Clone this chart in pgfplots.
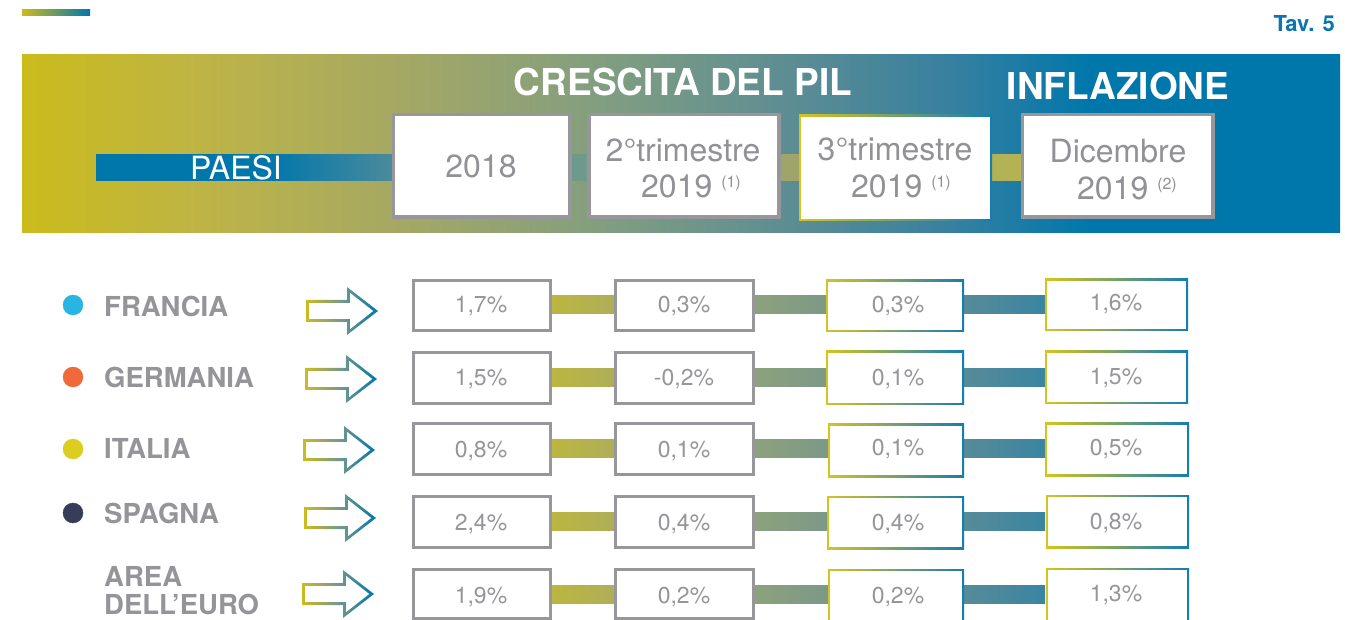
\documentclass[border=0pt]{standalone}
\usepackage{fontspec}
\setmainfont{TeX Gyre Heros}
\usepackage{pgfplots}
\pgfplotsset{compat=1.18}
\usepackage{pgfplotstable}

\definecolor{bY}{RGB}{203,187,28}
\definecolor{b1}{RGB}{190,180,70}
\definecolor{b2}{RGB}{165,168,100}
\definecolor{b3}{RGB}{130,158,128}
\definecolor{b4}{RGB}{90,140,148}
\definecolor{b5}{RGB}{55,128,160}
\definecolor{bB}{RGB}{0,119,171}
\definecolor{h1}{RGB}{75,138,156}
\definecolor{h2}{RGB}{110,154,140}
\definecolor{h3}{RGB}{158,165,107}
\definecolor{h4}{RGB}{181,179,82}
\definecolor{r0}{RGB}{188,182,64}
\definecolor{r1}{RGB}{174,174,88}
\definecolor{r2}{RGB}{141,162,124}
\definecolor{r3}{RGB}{124,153,135}
\definecolor{r4}{RGB}{87,139,152}
\definecolor{r5}{RGB}{58,133,162}
\definecolor{aY}{RGB}{205,188,30}
\definecolor{aM}{RGB}{115,152,140}
\definecolor{aB}{RGB}{0,120,172}
\definecolor{cY}{RGB}{214,196,30}
\definecolor{cB}{RGB}{20,125,180}
\definecolor{gborder}{RGB}{150,150,155}
\definecolor{hgray}{RGB}{145,145,150}
\definecolor{lgray}{RGB}{148,148,153}
\definecolor{vgray}{RGB}{150,150,154}
\definecolor{tavblue}{RGB}{10,117,176}
\definecolor{dFr}{RGB}{41,181,227}
\definecolor{dDe}{RGB}{240,105,58}
\definecolor{dIt}{RGB}{220,205,31}
\definecolor{dEs}{RGB}{53,61,88}

\pgfdeclarehorizontalshading{banner}{100bp}{color(0bp)=(bY); color(25bp)=(bY); color(31.75bp)=(b1); color(39.34bp)=(b2); color(46.93bp)=(b3); color(54.51bp)=(b4); color(60.2bp)=(b5); color(65.52bp)=(bB); color(100bp)=(bB)}
\pgfdeclarehorizontalshading{hbar}{100bp}{color(0bp)=(bB); color(34.4bp)=(bB); color(41bp)=(h1); color(51.1bp)=(h2); color(62.5bp)=(h3); color(75bp)=(h4); color(100bp)=(h4)}
\pgfdeclarehorizontalshading{rbar}{100bp}{color(0bp)=(r0); color(25bp)=(r0); color(31.6bp)=(r1); color(45.5bp)=(r2); color(52.9bp)=(r3); color(66.8bp)=(r4); color(75bp)=(r5); color(100bp)=(r5)}

% values: x = column centre, y = text baseline (pixels from top), v = value in %
\pgfplotstableread{
x y v
481 313 1.7
684 313 0.3
898 313 0.3
1116 311 1.6
}\francia
\pgfplotstableread{
x y v
481 386 1.5
684 386 -0.2
898 386 0.1
1116 385 1.5
}\germania
\pgfplotstableread{
x y v
481 457 0.8
684 457 0.1
898 456 0.1
1116 455 0.5
}\italia
\pgfplotstableread{
x y v
481 530 2.4
684 530 0.4
898 530 0.4
1116 529 0.8
}\spagna
\pgfplotstableread{
x y v
481 603 1.9
684 603 0.2
898 603 0.2
1116 601 1.3
}\euro

\newcommand{\gbox}[4]{\draw[gborder, line width=3pt, fill=white] (axis cs:#1,#2) rectangle (axis cs:#3,#4);}
\newcommand{\cbox}[4]{\shade[left color=cY, right color=cB] (axis cs:#1,#2) rectangle (axis cs:#3,#4);
  \fill[white] ([shift={(1.7pt,-1.7pt)}]axis cs:#1,#2) rectangle ([shift={(-1.7pt,1.7pt)}]axis cs:#3,#4);}
\newcommand{\arrowat}[2]{%
  \begin{scope}[shift={(axis cs:#1,#2)}]
  \shade[left color=aY, right color=aB, middle color=aM, even odd rule]
   (0pt,11pt) -- (41pt,11pt) -- (41pt,24pt) -- (72pt,0pt) -- (41pt,-24pt) -- (41pt,-11pt) -- (0pt,-11pt) -- cycle
   (2.8pt,8.2pt) -- (43.8pt,8.2pt) -- (43.8pt,18.5pt) -- (67.4pt,0pt) -- (43.8pt,-18.5pt) -- (43.8pt,-8.2pt) -- (2.8pt,-8.2pt) -- cycle;
  \end{scope}}
\newcommand{\rowbar}[1]{\shade[shading=rbar] (axis cs:550,#1-9) rectangle (axis cs:1045,#1+9);}

\pgfplotsset{valstyle/.style={only marks, mark=none,
  point meta=explicit,
  nodes near coords={\pgfmathprintnumber[fixed,fixed zerofill,precision=1,use comma]{\pgfplotspointmeta}\%},
  every node near coord/.append style={anchor=base, inner sep=0pt, text=vgray, font=\fontsize{23}{27}\selectfont}}}

\begin{document}
\begin{tikzpicture}
\begin{axis}[
  width=1345pt, height=620pt, scale only axis,
  xmin=0, xmax=1345, ymin=0, ymax=620, y dir=reverse,
  hide axis, clip=false,
  /pgf/number format/assume math mode=true,
]
\fill[white] (axis cs:0,0) rectangle (axis cs:1345,620);
% top decoration and table number
\shade[left color=bY, right color=bB] (axis cs:22,10) rectangle (axis cs:90,16);
\node[anchor=base east, inner sep=0pt, font=\bfseries\fontsize{22}{26}\selectfont, text=tavblue] at (axis cs:1335,32) {Tav. 5};
% banner
\shade[shading=banner] (axis cs:22,55) rectangle (axis cs:1340,233);
\shade[shading=hbar] (axis cs:96,155) rectangle (axis cs:1022,181);
\node[anchor=base, inner sep=0pt, white, font=\fontsize{32}{38}\selectfont] at (axis cs:236,180) {PAESI};
\node[anchor=base, inner sep=0pt, white, font=\bfseries\fontsize{37}{40}\selectfont] at (axis cs:683,96) {CRESCITA DEL PIL};
\node[anchor=base, inner sep=0pt, white, font=\bfseries\fontsize{37}{40}\selectfont] at (axis cs:1118,100) {INFLAZIONE};
% header boxes
\draw[gborder, line width=3.5pt, fill=white] (axis cs:393.5,114.5) rectangle (axis cs:570,217);
\draw[gborder, line width=3.5pt, fill=white] (axis cs:589,114.5) rectangle (axis cs:779,217);
\cbox{799}{115}{992}{221}
\draw[gborder, line width=3.5pt, fill=white] (axis cs:1022.5,114.5) rectangle (axis cs:1213,217);
\node[anchor=base, inner sep=0pt, text=hgray, font=\fontsize{32}{38}\selectfont] at (axis cs:481,178) {2018};
\node[anchor=base, inner sep=0pt, text=hgray, font=\fontsize{32}{38}\selectfont] at (axis cs:683,162) {2°trimestre};
\node[anchor=base, inner sep=0pt, text=hgray, font=\fontsize{32}{38}\selectfont] at (axis cs:691,198) {2019 \raisebox{10pt}{\fontsize{16}{16}\selectfont(1)}};
\node[anchor=base, inner sep=0pt, text=hgray, font=\fontsize{32}{38}\selectfont] at (axis cs:895,161) {3°trimestre};
\node[anchor=base, inner sep=0pt, text=hgray, font=\fontsize{32}{38}\selectfont] at (axis cs:901,198) {2019 \raisebox{10pt}{\fontsize{16}{16}\selectfont(1)}};
\node[anchor=base, inner sep=0pt, text=hgray, font=\fontsize{32}{38}\selectfont] at (axis cs:1118,163) {Dicembre};
\node[anchor=base, inner sep=0pt, text=hgray, font=\fontsize{32}{38}\selectfont] at (axis cs:1127,200) {2019 \raisebox{10pt}{\fontsize{16}{16}\selectfont(2)}};
% row connector bars
\rowbar{305}
\rowbar{378}
\rowbar{448}
\rowbar{521}
\rowbar{594}
% row boxes
\gbox{413}{281}{550}{331}   \gbox{615}{281}{753}{331}   \cbox{826}{280}{964}{332}   \cbox{1045}{279}{1188}{331}
\gbox{413}{353}{550}{404}   \gbox{615}{353}{753}{404}   \cbox{826}{351}{964}{405}   \cbox{1045}{351}{1188}{404}
\gbox{413}{424}{550}{474}   \gbox{615}{424}{753}{474}   \cbox{828}{424}{964}{477}   \cbox{1045}{423}{1189}{476}
\gbox{413}{496}{550}{547}   \gbox{615}{496}{753}{547}   \cbox{827}{496}{964}{549}   \cbox{1046}{495}{1189}{548}
\gbox{413}{569}{550}{618.5} \gbox{615}{569}{753}{618.5} \cbox{828}{569}{964}{622}   \cbox{1046}{568}{1189}{622}
% arrows
\arrowat{306}{311}
\arrowat{305}{379}
\arrowat{303}{450}
\arrowat{304}{518}
\arrowat{302}{594}
% country dots
\addplot[only marks, mark=*, mark size=10pt, color=dFr] coordinates {(73,305)};
\addplot[only marks, mark=*, mark size=10pt, color=dDe] coordinates {(73,377)};
\addplot[only marks, mark=*, mark size=10pt, color=dIt] coordinates {(73,449)};
\addplot[only marks, mark=*, mark size=10pt, color=dEs] coordinates {(73,513)};
% country labels
\node[anchor=base west, inner sep=0pt, text=lgray, font=\bfseries\fontsize{27.5}{30}\selectfont] at (axis cs:104,317) {FRANCIA};
\node[anchor=base west, inner sep=0pt, text=lgray, font=\bfseries\fontsize{27.5}{30}\selectfont] at (axis cs:104,388) {GERMANIA};
\node[anchor=base west, inner sep=0pt, text=lgray, font=\bfseries\fontsize{27.5}{30}\selectfont] at (axis cs:104,458) {ITALIA};
\node[anchor=base west, inner sep=0pt, text=lgray, font=\bfseries\fontsize{27.5}{30}\selectfont] at (axis cs:104,523) {SPAGNA};
\node[anchor=base west, inner sep=0pt, text=lgray, font=\bfseries\fontsize{27.5}{30}\selectfont] at (axis cs:104,586) {AREA};
\node[anchor=base west, inner sep=0pt, text=lgray, font=\bfseries\fontsize{27.5}{30}\selectfont] at (axis cs:104,614) {DELL’EURO};
% values
\addplot[valstyle] table[x=x, y=y, meta=v] {\francia};
\addplot[valstyle] table[x=x, y=y, meta=v] {\germania};
\addplot[valstyle] table[x=x, y=y, meta=v] {\italia};
\addplot[valstyle] table[x=x, y=y, meta=v] {\spagna};
\addplot[valstyle] table[x=x, y=y, meta=v] {\euro};
\end{axis}
\pgfresetboundingbox
\useasboundingbox (current axis.south west) rectangle (current axis.north east);
\end{tikzpicture}
\end{document}
